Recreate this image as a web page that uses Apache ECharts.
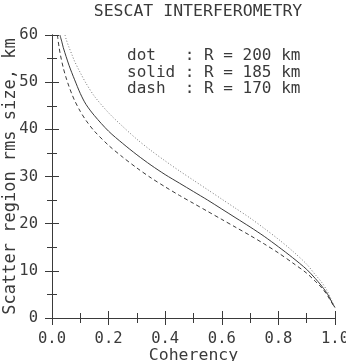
<!DOCTYPE html>
<html>
<head>
<meta charset="utf-8">
<script src="https://cdn.jsdelivr.net/npm/echarts@6/dist/echarts.min.js"></script>
<style>
  html, body { margin: 0; padding: 0; background: #fff; }
  #chart { width: 346px; height: 361px; }
</style>
</head>
<body>
<div id="chart"></div>
<script>
// curves (coherency, size in km)
var dotX = [0.046, 0.05, 0.06, 0.07, 0.08, 0.1, 0.12, 0.15, 0.2, 0.25, 0.3, 0.35, 0.4, 0.45, 0.5, 0.55, 0.6, 0.65, 0.7, 0.75, 0.8, 0.85, 0.9, 0.93, 0.95, 0.97, 0.98, 0.99, 1.0];
var dotY = [60, 59.1, 57.4, 55.9, 54.4, 52.0, 49.8, 47.0, 43.5, 40.6, 37.9, 35.5, 33.3, 31.2, 29.2, 27.2, 25.2, 23.2, 21.2, 19.0, 16.7, 14.2, 11.4, 9.2, 7.8, 6.0, 4.8, 3.5, 2.2];

var solidX = [0.028, 0.035, 0.04, 0.05, 0.06, 0.07, 0.08, 0.1, 0.12, 0.15, 0.2, 0.25, 0.3, 0.35, 0.4, 0.45, 0.5, 0.55, 0.6, 0.65, 0.7, 0.75, 0.8, 0.85, 0.9, 0.93, 0.95, 0.97, 0.98, 0.99, 1.0];
var solidY = [60, 58.5, 57.3, 55.4, 53.6, 52.0, 50.5, 47.6, 45.3, 42.9, 39.6, 37.0, 34.6, 32.4, 30.4, 28.6, 26.8, 25.0, 23.1, 21.2, 19.3, 17.3, 15.1, 12.8, 10.3, 8.4, 7.0, 5.4, 4.4, 3.2, 2.2];

var dashX = [0.019, 0.025, 0.03, 0.04, 0.05, 0.06, 0.07, 0.08, 0.1, 0.12, 0.15, 0.2, 0.25, 0.3, 0.35, 0.4, 0.45, 0.5, 0.55, 0.6, 0.65, 0.7, 0.75, 0.8, 0.85, 0.9, 0.93, 0.95, 0.97, 0.98, 0.99, 1.0];
var dashY = [60, 57.4, 55.7, 53.0, 50.9, 49.1, 47.5, 46.1, 43.8, 41.9, 39.6, 36.6, 34.1, 31.8, 29.7, 27.8, 26.0, 24.3, 22.6, 20.9, 19.2, 17.5, 15.7, 13.8, 11.7, 9.5, 7.8, 6.6, 5.1, 4.1, 3.1, 2.1];

var legendLines = ['dot   : R = 200 km', 'solid : R = 185 km', 'dash  : R = 170 km'];

function pairs(xs, ys) {
	var out = [];
	for (var i = 0; i < xs.length; i++) out.push([xs[i], ys[i]]);
	return out;
}

var ink = '#3a3a3a';
var font = 'DejaVu Sans Mono';

var myChart = echarts.init(document.getElementById('chart'));

var tickStyle = {
	axisLine: { show: true, lineStyle: { color: ink, width: 1 } },
	axisTick: { show: true, inside: false, length: 7, lineStyle: { color: ink } },
	minorTick: { show: true, splitNumber: 2, length: 5, lineStyle: { color: ink } },
	splitLine: { show: false }
};

option = {
	backgroundColor: '#fff',
	animation: false,
	title: {
		text: 'SESCAT INTERFEROMETRY',
		left: 193,
		textAlign: 'center',
		top: -2,
		textStyle: { fontFamily: font, fontSize: 16.5, fontWeight: 'normal', color: ink }
	},
	grid: { left: 52, right: 11, top: 35, bottom: 43, outerBoundsMode: 'none', containLabel: false },
	graphic: [{
		type: 'text',
		left: 127,
		top: 48,
		style: {
			text: legendLines.join('\n'),
			fontFamily: font,
			fontSize: 16,
			lineHeight: 16.5,
			fill: ink
		}
	}],
	xAxis: [
		Object.assign({
			type: 'value', position: 'bottom', min: 0, max: 1, interval: 0.2,
			name: 'Coherency', nameLocation: 'middle', nameGap: 29, nameMoveOverlap: false,
			nameTextStyle: { fontFamily: font, fontSize: 16.5, color: ink },
			axisLabel: {
				margin: 13, fontFamily: font, fontSize: 15.5, color: ink,
				formatter: function (v) { return v.toFixed(1); }
			}
		}, tickStyle),
		Object.assign({
			type: 'value', position: 'top', min: 0, max: 1, interval: 0.2,
			axisLabel: { show: false }
		}, tickStyle)
	],
	yAxis: [
		Object.assign({
			type: 'value', position: 'left', min: 0, max: 60, interval: 10,
			name: 'Scatter region rms size, km', nameLocation: 'middle', nameGap: 33, nameMoveOverlap: false,
			nameTextStyle: { fontFamily: font, fontSize: 17, color: ink },
			axisLabel: { margin: 14, fontFamily: font, fontSize: 15.5, color: ink }
		}, tickStyle),
		Object.assign({
			type: 'value', position: 'right', min: 0, max: 60, interval: 10,
			axisLabel: { show: false }
		}, tickStyle)
	],
	series: [
		{
			type: 'line', name: 'dot', data: pairs(dotX, dotY), symbol: 'none', smooth: 0.3,
			lineStyle: { color: '#777', width: 1, type: [1, 2] }
		},
		{
			type: 'line', name: 'solid', data: pairs(solidX, solidY), symbol: 'none', smooth: 0.3,
			lineStyle: { color: ink, width: 1, type: 'solid' }
		},
		{
			type: 'line', name: 'dash', data: pairs(dashX, dashY), symbol: 'none', smooth: 0.3,
			lineStyle: { color: ink, width: 1, type: [4, 3] }
		}
	]
};

if (option && typeof option === "object") {
	myChart.setOption(option, true);
}
</script>
</body>
</html>
